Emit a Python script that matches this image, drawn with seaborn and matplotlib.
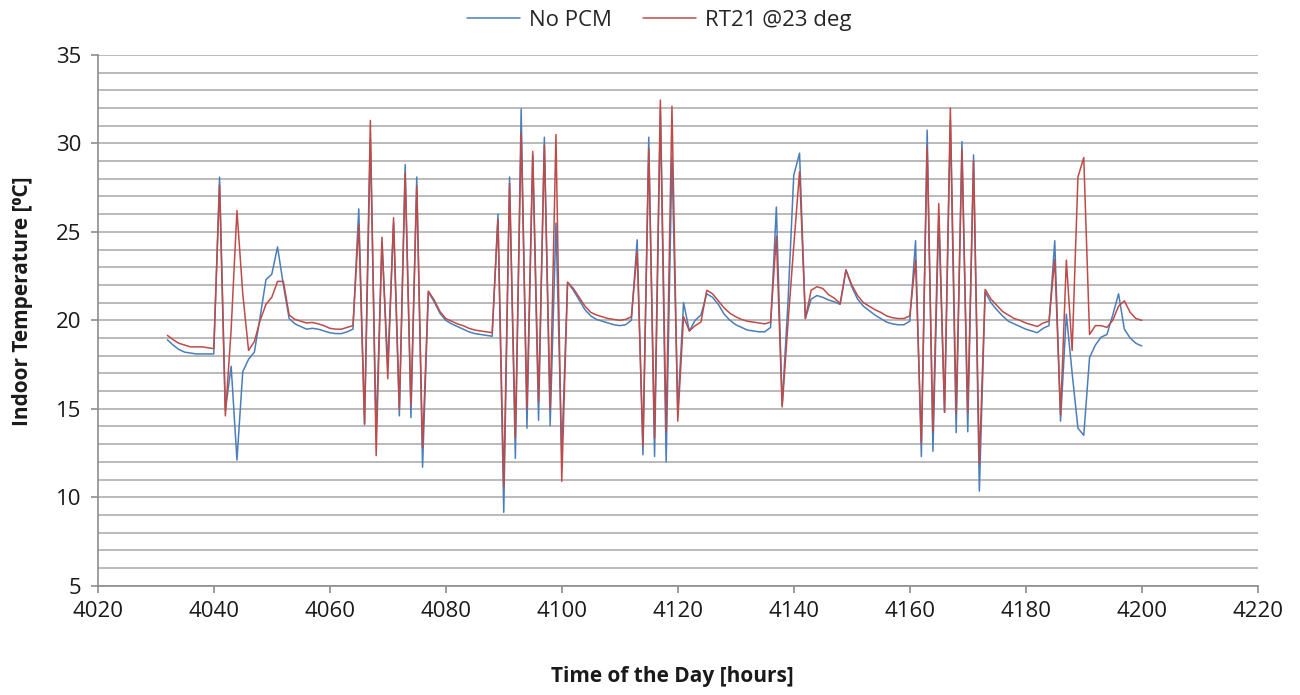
import matplotlib
matplotlib.use("Agg")
import matplotlib.pyplot as plt
from matplotlib.ticker import MultipleLocator
import numpy as np
import pandas as pd
import seaborn as sns

# ---- data (hourly) ----
hours = list(range(4032, 4201))

no_pcm = [
    18.9, 18.6, 18.35, 18.2, 18.15, 18.1, 18.1, 18.1, 18.1, 28.1,
    14.9, 17.4, 12.1, 17.1, 17.8, 18.2, 20.2, 22.3, 22.6, 24.15,
    22.0, 20.1, 19.8, 19.65, 19.5, 19.55, 19.5, 19.4, 19.3, 19.25,
    19.25, 19.35, 19.5, 26.3, 14.1, 30.2, 13.7, 24.4, 17.5, 25.5,
    14.6, 28.8, 14.5, 28.1, 11.7, 21.6, 21.05, 20.4, 20.0, 19.8,
    19.65, 19.5, 19.35, 19.25, 19.2, 19.15, 19.1, 26.0, 9.15, 28.1,
    12.2, 31.95, 13.9, 29.35, 14.35, 30.35, 14.05, 25.5, 12.5, 22.15,
    21.7, 21.15, 20.6, 20.25, 20.05, 19.95, 19.85, 19.75, 19.7, 19.75,
    20.0, 24.55, 12.4, 30.35, 12.3, 31.9, 12.0, 29.25, 14.9, 21.0,
    19.4, 20.0, 20.3, 21.5, 21.3, 20.9, 20.35, 20.0, 19.75, 19.6,
    19.45, 19.4, 19.35, 19.35, 19.6, 26.4, 15.2, 21.0, 28.2, 29.45,
    20.1, 21.2, 21.4, 21.3, 21.15, 21.05, 20.9, 22.85, 21.9, 21.2,
    20.8, 20.55, 20.3, 20.1, 19.9, 19.8, 19.75, 19.75, 19.95, 24.5,
    12.3, 30.75, 12.6, 25.85, 14.8, 31.3, 13.65, 30.1, 13.7, 29.35,
    10.35, 21.6, 21.0, 20.6, 20.25, 19.95, 19.8, 19.65, 19.5, 19.4,
    19.3, 19.55, 19.7, 24.5, 14.3, 20.35, 17.0, 13.9, 13.5, 17.9,
    18.6, 19.05, 19.2, 20.3, 21.5, 19.5, 19.0, 18.7, 18.55,
]

rt21 = [
    19.15, 18.9, 18.7, 18.6, 18.5, 18.5, 18.5, 18.45, 18.4, 27.65,
    14.6, 19.5, 26.2, 21.5, 18.3, 18.8, 20.0, 20.9, 21.3, 22.2,
    22.2, 20.3, 20.05, 19.95, 19.85, 19.88, 19.8, 19.7, 19.55, 19.5,
    19.5, 19.6, 19.7, 25.4, 14.15, 31.3, 12.35, 24.7, 16.7, 25.8,
    15.0, 28.3, 15.2, 27.6, 12.8, 21.65, 21.15, 20.5, 20.1, 19.95,
    19.8, 19.7, 19.55, 19.45, 19.4, 19.35, 19.3, 25.7, 10.6, 27.75,
    13.35, 30.6, 15.0, 29.55, 15.4, 29.9, 14.95, 30.5, 10.9, 22.15,
    21.8, 21.3, 20.8, 20.45, 20.3, 20.2, 20.1, 20.05, 20.0, 20.05,
    20.2, 23.9, 12.9, 29.7, 13.35, 32.45, 13.7, 32.1, 14.3, 20.2,
    19.4, 19.7, 19.9, 21.7, 21.5, 21.1, 20.7, 20.4, 20.2, 20.05,
    19.95, 19.9, 19.85, 19.8, 19.9, 24.75, 15.1, 19.8, 24.2, 28.4,
    20.1, 21.7, 21.9, 21.8, 21.45, 21.25, 20.95, 22.85, 22.0, 21.4,
    21.0, 20.8, 20.6, 20.45, 20.25, 20.15, 20.1, 20.1, 20.25, 23.4,
    13.05, 29.8, 13.7, 26.6, 14.8, 32.0, 14.75, 29.65, 14.8, 29.0,
    11.9, 21.75, 21.2, 20.85, 20.5, 20.3, 20.1, 20.0, 19.85, 19.75,
    19.65, 19.85, 19.95, 23.45, 14.65, 23.4, 18.3, 28.1, 29.2, 19.2,
    19.7, 19.7, 19.6, 20.0, 20.8, 21.1, 20.45, 20.1, 20.0,
]

series_names = ["No PCM", "RT21 @23 deg"]
series_colors = ["#4A7EBB", "#BE4B48"]
x_ticks = [4020, 4040, 4060, 4080, 4100, 4120, 4140, 4160, 4180, 4200, 4220]
y_ticks = [5, 10, 15, 20, 25, 30, 35]
x_label = "Time of the Day [hours]"
y_label = "Indoor Temperature [\u2070C]"

# ---- style ----
sns.set_theme(style="white")
plt.rcParams["font.family"] = ["Open Sans", "DejaVu Sans"]
text_color = "#1a1a1a"

df = pd.DataFrame({
    "hour": hours + hours,
    "temp": no_pcm + rt21,
    "series": [series_names[0]] * len(hours) + [series_names[1]] * len(hours),
})

fig = plt.figure(figsize=(13, 6.95), dpi=100)
ax = fig.add_axes([0.0752, 0.1573, 0.8923, 0.7636])

sns.lineplot(
    data=df, x="hour", y="temp", hue="series", hue_order=series_names,
    palette=series_colors, estimator=None, sort=False, linewidth=1.1,
    ax=ax, legend=False,
)

ax.set_xlim(x_ticks[0], x_ticks[-1])
ax.set_ylim(y_ticks[0], y_ticks[-1])
ax.set_xticks(x_ticks)
ax.set_yticks(y_ticks)
ax.yaxis.set_minor_locator(MultipleLocator(1))
ax.grid(which="both", axis="y", color="#B4B4B4", linewidth=1.3)
ax.grid(which="both", axis="x", visible=False)
ax.set_axisbelow(True)

for side in ["top", "right"]:
    ax.spines[side].set_visible(False)
for side in ["left", "bottom"]:
    ax.spines[side].set_color("#8C8C8C")
    ax.spines[side].set_linewidth(1.2)

ax.tick_params(which="major", direction="out", length=5, width=1.2,
               color="#8C8C8C", labelsize=16, labelcolor=text_color,
               left=True, bottom=True)
ax.tick_params(axis="y", which="major", pad=7)
ax.tick_params(axis="x", which="major", pad=6)
ax.tick_params(which="minor", length=0)
ax.set_xlabel("")
ax.set_ylabel("")

fig.text(0.517, 0.026, x_label, ha="center", va="center",
         fontsize=15, fontweight="bold", color=text_color)
fig.text(0.017, 1 - 301 / 695, y_label, ha="center", va="center",
         rotation=90, fontsize=15, fontweight="bold", color=text_color)

handles = [plt.Line2D([], [], color=c, linewidth=1.1) for c in series_colors]
fig.legend(handles, series_names, loc="center", bbox_to_anchor=(0.507, 0.971),
           ncol=2, frameon=False, fontsize=16, handlelength=2.4,
           handletextpad=0.4, columnspacing=1.4)

fig.savefig("out.png", dpi=100)
